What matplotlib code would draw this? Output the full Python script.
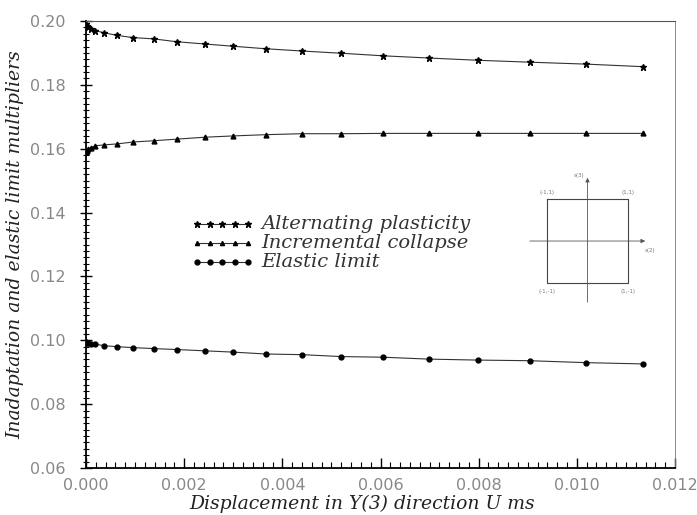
import matplotlib
matplotlib.use('Agg')
import matplotlib.pyplot as plt
from matplotlib.ticker import MultipleLocator, FormatStrFormatter

# displacement values (same sampling for the three curves)
disp = [0.0, 0.00002, 0.00005, 0.0001, 0.00018, 0.00037, 0.00063, 0.00096, 0.00138,
        0.00185, 0.00242, 0.00299, 0.00367, 0.0044, 0.0052, 0.00605, 0.00699,
        0.00798, 0.00904, 0.01018, 0.01134]
alternating = [0.1990, 0.1985, 0.1981, 0.1976, 0.1970, 0.1963, 0.1955, 0.1948, 0.1944,
               0.1935, 0.1928, 0.1921, 0.1913, 0.1906, 0.1899, 0.1891, 0.1884,
               0.1877, 0.1871, 0.1865, 0.1857]
incremental = [0.1590, 0.1594, 0.1598, 0.1603, 0.1609, 0.1612, 0.1615, 0.1621, 0.1625,
               0.1630, 0.1636, 0.1640, 0.1644, 0.1647, 0.1647, 0.1648, 0.1648,
               0.1648, 0.1648, 0.1648, 0.1648]
elastic = [0.0995, 0.0993, 0.0991, 0.0989, 0.0988, 0.0983, 0.0980, 0.0977, 0.0974,
           0.0971, 0.0967, 0.0963, 0.0957, 0.0955, 0.0949, 0.0947, 0.0941,
           0.0938, 0.0936, 0.0930, 0.0926]

labels = ['Alternating plasticity', 'Incremental collapse', 'Elastic limit']

fig = plt.figure(figsize=(6.97, 5.15), dpi=100)
ax = fig.add_axes([86 / 697, 1 - 468 / 515, 589 / 697, 447 / 515])

line_kw = dict(color='#333333', lw=0.8, markeredgecolor='black', markerfacecolor='black')
ax.plot(disp, alternating, marker='*', ms=5, **line_kw)
ax.plot(disp, incremental, marker='^', ms=3.5, **line_kw)
ax.plot(disp, elastic, marker='o', ms=3.5, **line_kw)

ax.set_xlim(0, 0.012)
ax.set_ylim(0.06, 0.20)
ax.xaxis.set_major_locator(MultipleLocator(0.002))
ax.xaxis.set_minor_locator(MultipleLocator(0.0002))
ax.yaxis.set_major_locator(MultipleLocator(0.02))
ax.yaxis.set_minor_locator(MultipleLocator(0.002))
ax.xaxis.set_major_formatter(FormatStrFormatter('%.3f'))
ax.yaxis.set_major_formatter(FormatStrFormatter('%.2f'))

ax.tick_params(axis='x', which='major', direction='in', length=7, width=1, labelsize=11.5,
               labelcolor='#888888', pad=7)
ax.tick_params(axis='x', which='minor', direction='in', length=4, width=0.8)
ax.tick_params(axis='y', which='major', direction='inout', length=9, width=1, labelsize=11.5,
               labelcolor='#888888', pad=10)
ax.tick_params(axis='y', which='minor', direction='inout', length=5, width=0.8)

ax.spines['left'].set_linewidth(1.3)
ax.spines['bottom'].set_linewidth(1.3)
ax.spines['top'].set_linewidth(0.8)
ax.spines['top'].set_color('#555555')
ax.spines['right'].set_linewidth(0.6)
ax.spines['right'].set_color('#777777')

label_font = dict(family='DejaVu Serif', style='italic', fontsize=13.5, color='#222222')
ax.set_xlabel('Displacement in Y(3) direction U ms', **label_font)
ax.set_ylabel('Inadaptation and elastic limit multipliers', **label_font)
ax.xaxis.set_label_coords(0.469, -0.06)
ax.yaxis.set_label_coords(-0.104, 0.5)

# legend drawn by hand: 5 markers per line
leg_x = [0.00226, 0.00252, 0.00278, 0.00304, 0.00330]
leg_y = [0.1364, 0.1305, 0.1245]
markers = [('*', 4.5), ('^', 3), ('o', 3.5)]
for yy, (m, s), lab in zip(leg_y, markers, labels):
    ax.plot(leg_x, [yy] * 5, marker=m, ms=s, **line_kw)
    ax.text(0.00358, yy, lab, va='center', ha='left', family='DejaVu Serif',
            style='italic', fontsize=14, color='#333333')

# inset yield-surface sketch
ins = fig.add_axes([527 / 697, 1 - 305 / 515, 123 / 697, 133 / 515])
ins.set_xlim(-1.49, 1.54)
ins.set_ylim(-1.52, 1.64)
ins.axis('off')
ins.plot([-1, 1, 1, -1, -1], [1, 1, -1, -1, 1], color='#444444', lw=0.8)
ins.annotate('', xy=(1.49, 0), xytext=(-1.49, 0),
             arrowprops=dict(arrowstyle='-|>', color='#555555', lw=0.6, mutation_scale=6))
ins.annotate('', xy=(0, 1.57), xytext=(0, -1.52),
             arrowprops=dict(arrowstyle='-|>', color='#555555', lw=0.6, mutation_scale=6))
small = dict(fontsize=4, color='#777777', family='DejaVu Sans')
ins.text(-0.08, 1.55, 's(3)', ha='right', va='center', **small)
ins.text(1.42, -0.22, 's(2)', ha='left', va='center', **small)
ins.text(-1.0, 1.15, '(-1,1)', ha='center', va='center', **small)
ins.text(1.0, 1.15, '(1,1)', ha='center', va='center', **small)
ins.text(-1.0, -1.2, '(-1,-1)', ha='center', va='center', **small)
ins.text(1.0, -1.2, '(1,-1)', ha='center', va='center', **small)

fig.savefig('out.png', dpi=100)
